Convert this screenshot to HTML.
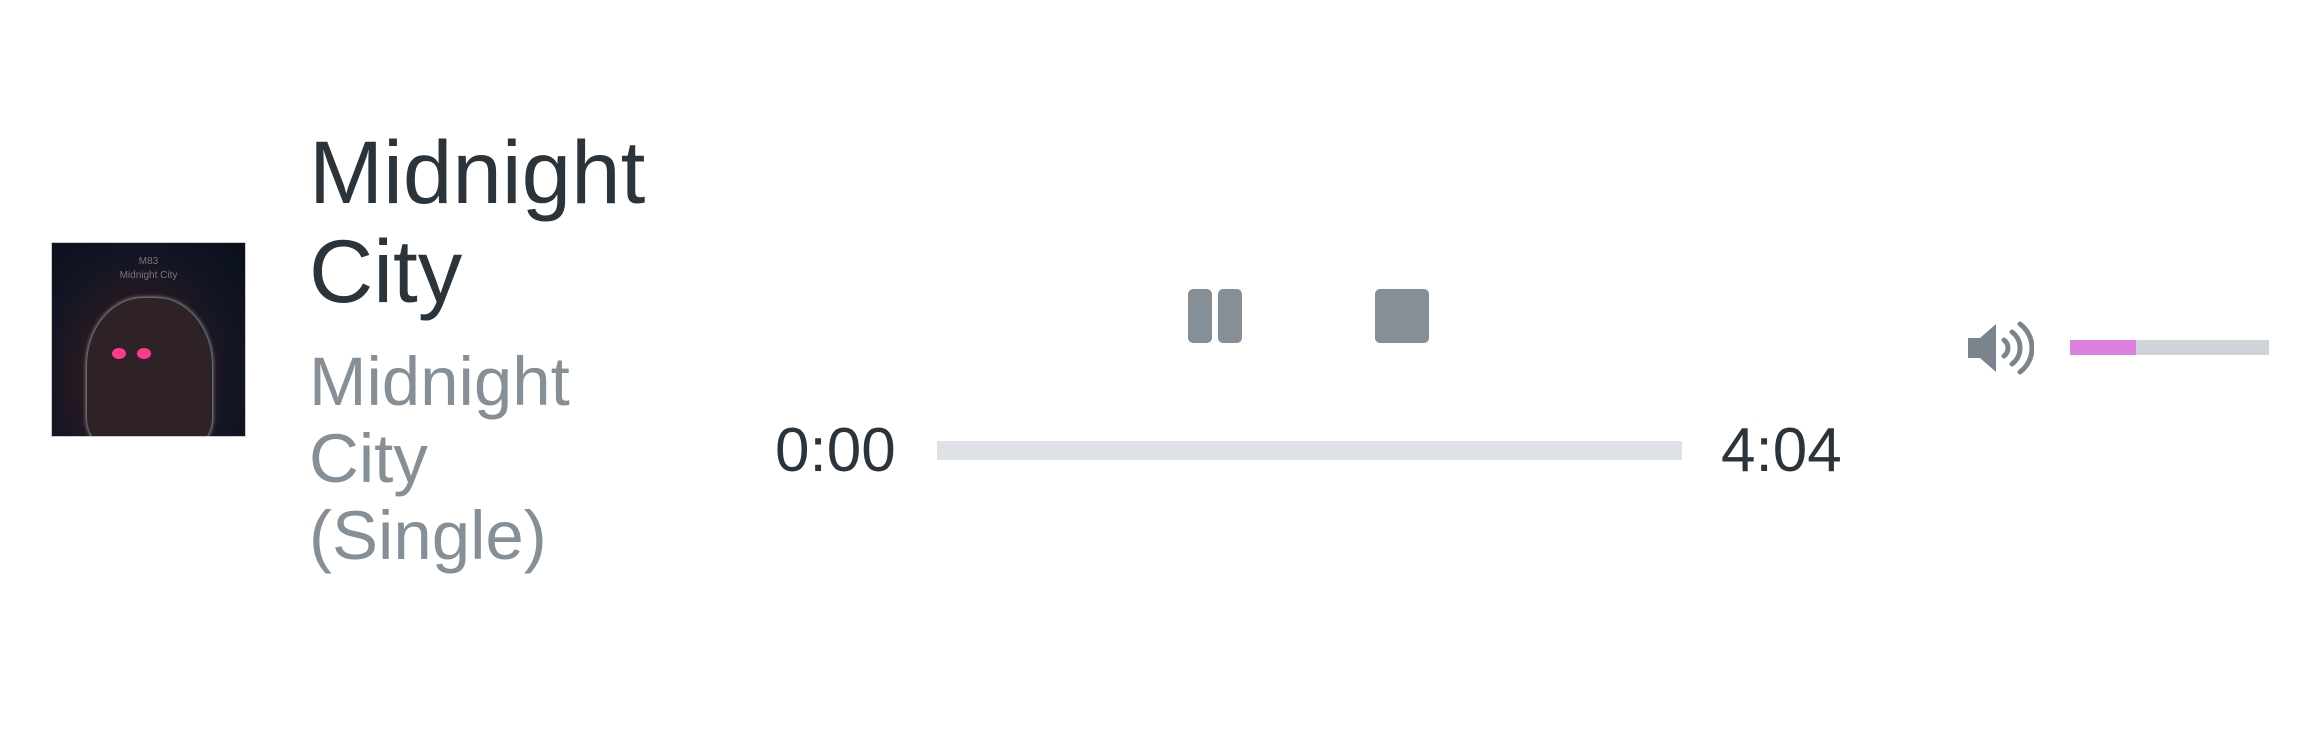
<!DOCTYPE html>
<html><head><meta charset="utf-8"><style>
body{margin:0;width:2320px;height:750px;background:#fff;position:relative;overflow:hidden;font-family:"Liberation Sans",sans-serif}
.a{position:absolute}
</style></head><body>
<div class="a" style="left:51px;top:242px;width:195px;height:195px;background:radial-gradient(ellipse at 45% 70%,#5a2a35 0%,#2a1820 35%,#121624 65%,#0a0f1c 100%);overflow:hidden;border:1px solid #ccc;box-sizing:border-box">
<div class="a" style="left:35px;top:55px;width:125px;height:150px;border-radius:45% 45% 20% 20%;background:#2e2226;box-shadow:0 0 5px #bdd"></div>
<div class="a" style="left:60px;top:105px;width:14px;height:11px;border-radius:50%;background:#ff3a8c"></div>
<div class="a" style="left:85px;top:105px;width:14px;height:11px;border-radius:50%;background:#ff3a8c"></div>
<div class="a" style="left:0;top:12px;width:100%;text-align:center;color:#777;font-size:10px;line-height:14px">M83<br>Midnight City</div>
</div>
<div class="a" style="left:309px;top:123px;font-size:89px;line-height:99px;color:#2b333b">Midnight<br>City</div>
<div class="a" style="left:309px;top:343px;font-size:69px;line-height:77px;color:#868e96">Midnight<br>City<br>(Single)</div>
<div class="a" style="left:1188px;top:289px;width:54px;height:54px">
<div class="a" style="left:0;top:0;width:24px;height:54px;background:#868e96;border-radius:5px"></div>
<div class="a" style="left:30px;top:0;width:24px;height:54px;background:#868e96;border-radius:5px"></div>
</div>
<div class="a" style="left:1375px;top:289px;width:54px;height:54px;background:#868e96;border-radius:5px"></div>
<div class="a" style="left:775px;top:415px;font-size:62px;line-height:72px;color:#2b333b">0:00</div>
<div class="a" style="left:937px;top:441px;width:745px;height:19px;background:#dee2e6"></div>
<div class="a" style="left:1721px;top:415px;font-size:62px;line-height:72px;color:#2b333b">4:04</div>
<svg class="a" style="left:1966px;top:320px" width="68" height="56" viewBox="0 0 68 56">
<path d="M2 18h12l16-14v48l-16-14H2z" fill="#7b848c"/>
<path d="M38 20a10 10 0 0 1 0 16" stroke="#7b848c" stroke-width="5" fill="none" stroke-linecap="round"/>
<path d="M46 12a20 20 0 0 1 0 32" stroke="#7b848c" stroke-width="5" fill="none" stroke-linecap="round"/>
<path d="M54 4a30 30 0 0 1 0 48" stroke="#7b848c" stroke-width="5" fill="none" stroke-linecap="round"/>
</svg>
<div class="a" style="left:2070px;top:340px;width:199px;height:15px;background:#ced4da">
<div class="a" style="left:0;top:0;width:66px;height:15px;background:#dd80e0"></div>
</div>
</body></html>
